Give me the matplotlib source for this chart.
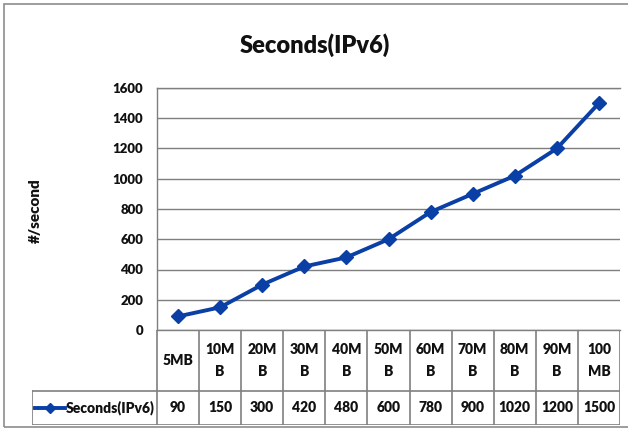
import matplotlib
matplotlib.use("Agg")
import matplotlib.pyplot as plt
from matplotlib.patches import Rectangle

plt.rcParams['font.family'] = ['Lato', 'DejaVu Sans']
plt.rcParams['font.weight'] = 'bold'

# datos
categorias = ["5MB", "10M\nB", "20M\nB", "30M\nB", "40M\nB", "50M\nB",
              "60M\nB", "70M\nB", "80M\nB", "90M\nB", "100\nMB"]
segundos = [90, 150, 300, 420, 480, 600, 780, 900, 1020, 1200, 1500]
serie = "Seconds(IPv6)"
yticks = [0, 200, 400, 600, 800, 1000, 1200, 1400, 1600]

azul = "#0a3fa6"
gris = "#7f7f7f"
negro = "#111111"
W, H = 628, 432

fig = plt.figure(figsize=(W / 100, H / 100), dpi=100)

# borde exterior
fig.patches.append(Rectangle((4 / W, 1 - 427 / H), 700 / W, 423 / H,
                             transform=fig.transFigure, fill=False,
                             edgecolor="#8c8c8c", linewidth=1.2))

x0, x1, ytop, ybot = 157, 620, 88, 330
ax = fig.add_axes([x0 / W, 1 - ybot / H, (x1 - x0) / W, (ybot - ytop) / H])
n = len(segundos)
xs = [i + 0.5 for i in range(n)]
ax.plot(xs, segundos, color=azul, linewidth=2.8, marker="D", markersize=7,
        markeredgecolor=azul)
ax.set_xlim(0, n)
ax.set_ylim(0, 1600)
ax.set_yticks(yticks)
ax.set_yticklabels([str(v) for v in yticks], fontsize=9.5, fontweight="heavy",
                   color=negro)
ax.set_xticks([])
ax.tick_params(axis="y", length=0, pad=10)
ax.grid(axis="y", color=gris, linewidth=1)
for s in ax.spines.values():
    s.set_color(gris)
    s.set_linewidth(1)
ax.spines["right"].set_visible(False)

fig.text(315 / W, 1 - 45 / H, "Seconds(IPv6)", ha="center", va="center",
         fontsize=17, fontweight="heavy", color=negro)
fig.text(35 / W, 1 - 211 / H, "#/second", ha="center", va="center",
         rotation=90, fontsize=11, fontweight="heavy", color=negro)

# tabla de datos
tx0, tbot = 32, 425
cw = (x1 - x0) / n
izq = -(x0 - tx0) / cw
tab = fig.add_axes([tx0 / W, 1 - tbot / H, (x1 - tx0) / W, (tbot - ybot) / H])
tab.set_xlim(izq, n)
tab.set_ylim(0, 1)
tab.axis("off")
ysep = 34 / (tbot - ybot)
kw = dict(color=gris, linewidth=1.2)
for i in range(n + 1):
    tab.plot([i, i], [0, 1], **kw)
tab.plot([izq, izq], [0, ysep], **kw)
tab.plot([izq, n], [ysep, ysep], **kw)
tab.plot([izq, n], [0, 0], **kw)
for i, (c, v) in enumerate(zip(categorias, segundos)):
    tab.text(i + 0.5, (1 + ysep) / 2, c, ha="center", va="center",
             fontsize=10, fontweight="heavy", color=negro, linespacing=1.75)
    tab.text(i + 0.5, ysep / 2, str(v), ha="center", va="center",
             fontsize=10, fontweight="heavy", color=negro)
tab.plot([izq + 0.07, izq + 0.42, izq + 0.78], [ysep / 2] * 3, color=azul,
         linewidth=2.8, marker="D", markersize=5, markevery=[1],
         markeredgecolor=azul)
tab.text(izq + 0.8, ysep / 2, serie, ha="left", va="center", fontsize=10,
         fontweight="heavy", color=negro)

fig.savefig("out.png", dpi=100)
